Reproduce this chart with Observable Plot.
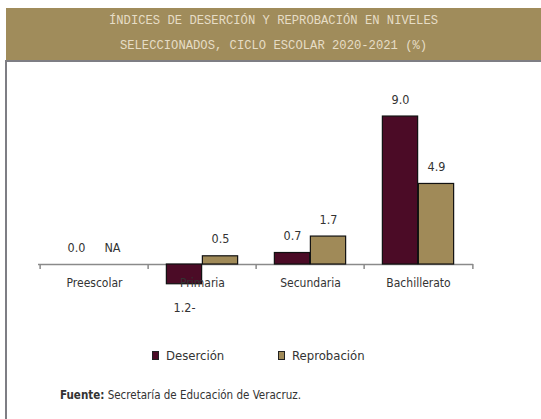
<!DOCTYPE html>
<html>
<head>
<meta charset="utf-8">
<script src="https://cdn.jsdelivr.net/npm/d3@7"></script>
<script src="https://cdn.jsdelivr.net/npm/@observablehq/plot@0.6"></script>
<style>
  html, body { margin: 0; padding: 0; background: #fff; }
  #page { position: relative; width: 541px; height: 419px; overflow: hidden; font-family: "Liberation Sans Narrow", "DejaVu Sans Condensed", sans-serif; color: #333; }
  #header { position: absolute; left: 6px; top: 8px; width: 535px; height: 52px; background: #a08c5b; }
  .tline { position: absolute; left: 0; width: 100%; text-align: center; font-family: "Liberation Mono", "DejaVu Sans Mono", monospace; font-size: 12.2px; color: #e6ddc6; line-height: 14px; white-space: pre; }
  #box { position: absolute; left: 5px; top: 60px; width: 540px; height: 370px; border-left: 2px solid #7e7e84; border-top: 2px solid #7e7e84; }
  #chart { position: absolute; left: 0; top: 62px; }
  #legend { position: absolute; top: 345px; left: 0; width: 541px; height: 20px; font-size: 13px; color: #333; }
  .litem { position: absolute; top: 0; display: flex; align-items: center; height: 20px; }
  .sw { width: 5px; height: 7px; border: 1px solid #222; margin-right: 7px; }
  #footer { position: absolute; left: 60px; top: 388px; font-size: 11.5px; color: #333; }
</style>
</head>
<body>
<div id="page">
  <div id="header">
    <div class="tline" id="t1" style="top:6px"></div>
    <div class="tline" id="t2" style="top:31px"></div>
  </div>
  <div id="box"></div>
  <div id="chart"></div>
  <div id="legend"></div>
  <div id="footer"></div>
</div>
<script>
const titleLines = ["ÍNDICES DE DESERCIÓN Y REPROBACIÓN EN NIVELES", "SELECCIONADOS, CICLO ESCOLAR 2020-2021 (%)"];
const categories = ["Preescolar", "Primaria", "Secundaria", "Bachillerato"];
const seriesNames = ["Deserción", "Reprobación"];
const desercion = [0.0, -1.2, 0.7, 9.0];
const reprobacion = [null, 0.5, 1.7, 4.9];
const seriesColors = ["#4b0b26", "#a08a58"];
const sourceLabel = "Fuente:";
const sourceText = " Secretaría de Educación de Veracruz.";

document.getElementById("t1").textContent = titleLines[0];
document.getElementById("t2").textContent = titleLines[1];

const rows = categories.map((c, i) => ({cat: c, des: desercion[i], rep: reprobacion[i]}));
const fmt = v => v == null ? "NA" : (v < 0 ? Math.abs(v).toFixed(1) + "-" : v.toFixed(1));

const W = 541, H = 260;
const x0 = 38, x1 = 473;
const bw = (x1 - x0) / categories.length;
const barW = 36;
const side = (bw - 2 * barW) / 2;

const font = "\"Liberation Sans Narrow\", \"DejaVu Sans Condensed\", sans-serif";

const chart = Plot.plot({
  width: W,
  height: H,
  marginLeft: x0,
  marginRight: W - x1,
  marginTop: 0,
  marginBottom: 0,
  style: {fontFamily: font, fontSize: "12px", color: "#333", background: "transparent", overflow: "visible"},
  x: {type: "band", domain: categories, range: [x0, x1], padding: 0, axis: null},
  y: {domain: [-2, 10], range: [234.9, 37.6], axis: null},
  marks: [
    Plot.ruleY([0], {stroke: "#8a8a8a", strokeWidth: 1.5}),
    Plot.ruleX(categories, {x: d => d, y1: 0, y2: 0, dx: -bw / 2, insetBottom: -5, stroke: "#8a8a8a", strokeWidth: 1.5}),
    Plot.ruleX([categories[categories.length - 1]], {x: d => d, y1: 0, y2: 0, dx: bw / 2, insetBottom: -5, stroke: "#8a8a8a", strokeWidth: 1.5}),
    Plot.barY(rows.filter(d => d.des != null && d.des !== 0), {x: "cat", y: "des", fill: seriesColors[0], stroke: "#111", strokeWidth: 1.2, insetLeft: side, insetRight: side + barW}),
    Plot.barY(rows.filter(d => d.rep != null && d.rep !== 0), {x: "cat", y: "rep", fill: seriesColors[1], stroke: "#111", strokeWidth: 1.2, insetLeft: side + barW, insetRight: side}),
    Plot.text(rows.filter(d => d.des >= 0), {x: "cat", y: "des", text: d => fmt(d.des), dx: -barW / 2, dy: -17, fontSize: 12.5, fill: "#333"}),
    Plot.text(rows.filter(d => d.des < 0), {x: "cat", y: "des", text: d => fmt(d.des), dx: -barW / 2, dy: 24, fontSize: 12.5, fill: "#333"}),
    Plot.text(rows, {x: "cat", y: d => d.rep == null ? 0 : d.rep, text: d => fmt(d.rep), dx: barW / 2, dy: -17, fontSize: 12.5, fill: "#333"}),
    Plot.text(rows, {x: "cat", y: 0, text: "cat", dy: 19, fontSize: 12, fill: "#333"})
  ]
});
document.getElementById("chart").appendChild(chart);

const legend = document.getElementById("legend");
const legendX = [152, 278];
seriesNames.forEach((name, i) => {
  const item = document.createElement("div");
  item.className = "litem";
  item.style.left = legendX[i] + "px";
  const sw = document.createElement("span");
  sw.className = "sw";
  sw.style.background = seriesColors[i];
  const t = document.createElement("span");
  t.textContent = name;
  item.appendChild(sw);
  item.appendChild(t);
  legend.appendChild(item);
});

const footer = document.getElementById("footer");
const b = document.createElement("b");
b.textContent = sourceLabel;
footer.appendChild(b);
footer.appendChild(document.createTextNode(sourceText));
</script>
</body>
</html>
